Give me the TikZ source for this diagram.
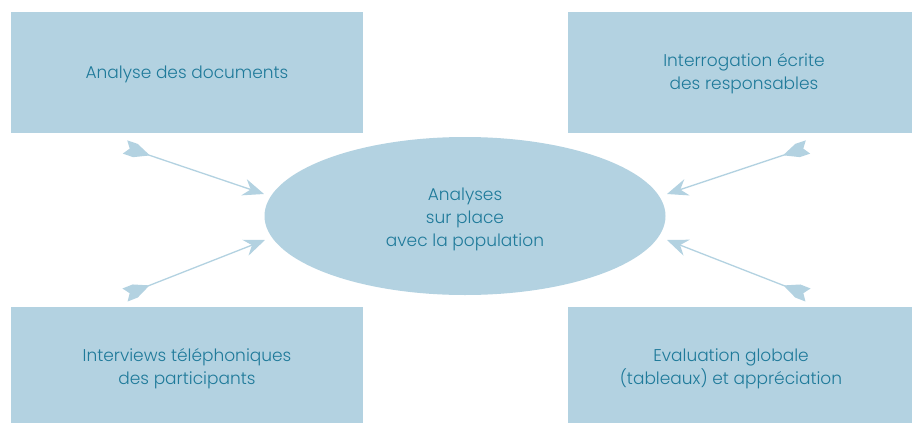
\documentclass[tikz,border=0pt]{standalone}
\usepackage{fontspec}
\setmainfont{Poppins}[UprightFont=* Light]
\usetikzlibrary{arrows.meta,shapes.geometric}
\definecolor{boxfill}{HTML}{B3D2E1}
\definecolor{txt}{HTML}{1F7A9A}
\pgfdeclarearrow{
  name = Fletch,
  setup code = {
    \pgfarrowssettipend{0pt}
    \pgfarrowssetlineend{-16pt}
    \pgfarrowssetbackend{-25pt}
    \pgfarrowsupperhullpoint{0pt}{7pt}
    \pgfarrowsupperhullpoint{-25pt}{7pt}
  },
  drawing code = {
    \pgfpathmoveto{\pgfpoint{0pt}{7pt}}
    \pgfpathlineto{\pgfpoint{-11pt}{7pt}}
    \pgfpathlineto{\pgfpoint{-25pt}{0.6pt}}
    \pgfpathlineto{\pgfpoint{-25pt}{-0.6pt}}
    \pgfpathlineto{\pgfpoint{-11pt}{-7pt}}
    \pgfpathlineto{\pgfpoint{0pt}{-7pt}}
    \pgfpathlineto{\pgfpoint{-5pt}{0pt}}
    \pgfpathclose
    \pgfusepathqfill
  }
}
\begin{document}
\begin{tikzpicture}[x=1pt,y=-1pt,
  box/.style={fill=boxfill,draw=none},
  lbl/.style={text=txt,font=\fontsize{17}{23}\selectfont,align=center,inner sep=0pt},
  conn/.style={draw=boxfill,line width=1.3pt,
    {Fletch}-{Stealth[length=21pt,width=17pt,inset=7pt,fill=boxfill]}}]
\useasboundingbox (0,0) rectangle (912,423);
\fill[white] (0,0) rectangle (912,423);
\path[box] (11,12) rectangle (363,133);
\path[box] (568,12) rectangle (912,133);
\path[box] (11,307) rectangle (363,423);
\path[box] (568,307) rectangle (912,423);
\node[lbl] (tl) at (187,74) {Analyse des documents};
\node[lbl] (tr) at (744,73.5) {Interrogation écrite\\des responsables};
\node[lbl] (bl) at (187,369) {Interviews téléphoniques\\des participants};
\node[lbl] (br) at (731,369) {Evaluation globale\\(tableaux) et appréciation};
\node[ellipse,fill=boxfill,minimum width=401pt,minimum height=158pt,inner sep=0pt] (ell) at (465,216) {};
\node[lbl] (c) at (465,219) {Analyses\\sur place\\avec la population};
\coordinate (t1) at (125,147);
\coordinate (t2) at (125,295);
\coordinate (t3) at (808,147);
\coordinate (t4) at (808,295);
\coordinate (h1) at (264,194);
\coordinate (h2) at (265,240);
\coordinate (h3) at (667,194);
\coordinate (h4) at (667,240);
\draw[conn] (t1) -- (h1);
\draw[conn] (t2) -- (h2);
\draw[conn] (t3) -- (h3);
\draw[conn] (t4) -- (h4);
\end{tikzpicture}
\end{document}
